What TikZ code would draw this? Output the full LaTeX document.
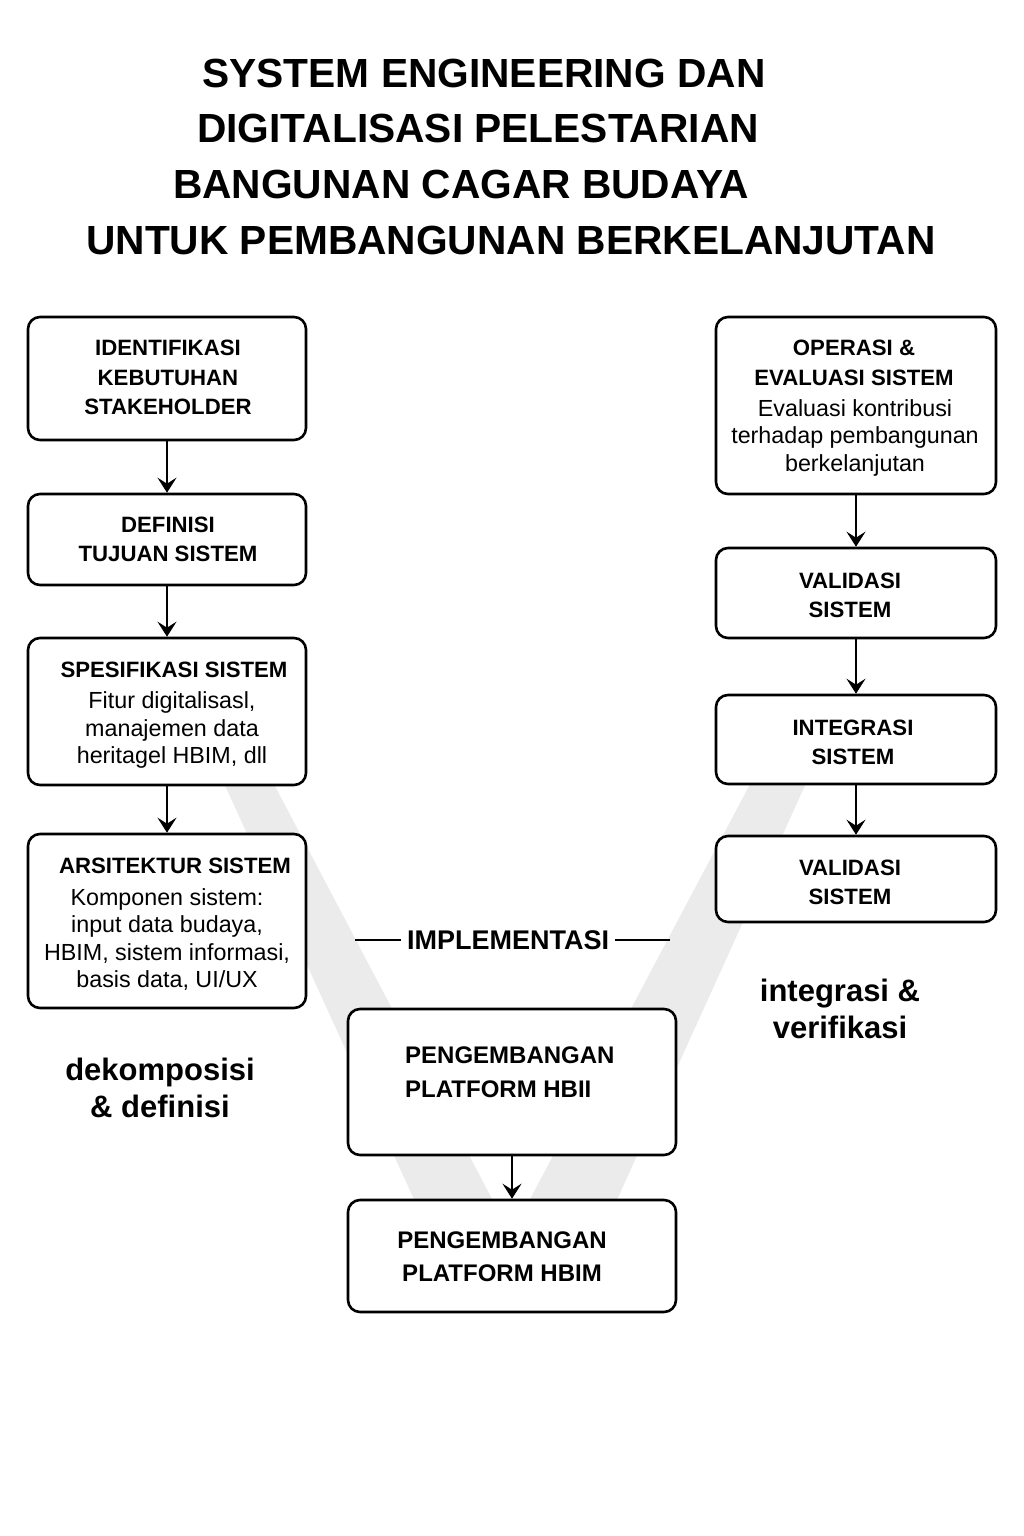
\documentclass[tikz,border=0pt]{standalone}
\usepackage{fontspec}
\setmainfont{Liberation Sans}
\usetikzlibrary{arrows.meta}
\definecolor{vgrey}{HTML}{EBEBEB}
\begin{document}
\begin{tikzpicture}[x=1pt,y=-1pt,
  box/.style={draw=black, line width=2.6pt, rounded corners=12pt, fill=white, inner sep=0pt},
  hd/.style={font=\bfseries\fontsize{22.2}{29.5}\selectfont, align=center, inner sep=0pt},
  bd/.style={font=\fontsize{23.3}{27.5}\selectfont, align=center, inner sep=0pt},
  arr/.style={line width=2.7pt, -{Stealth[length=15pt,width=19pt,inset=6pt]}},
  ttl/.style={font=\bfseries\fontsize{40.7}{48}\selectfont, inner sep=0pt},
  lbl/.style={font=\bfseries\fontsize{31}{37}\selectfont, align=center, inner sep=0pt}]
\useasboundingbox (0,0) rectangle (1024,1536);
\fill[white] (0,0) rectangle (1024,1536);
% V band
\fill[vgrey] (218,770) -- (266.5,770) -- (511,1235) -- (757.6,770) -- (812,770) -- (571.5,1300) -- (460,1300) -- cycle;
% title
\node[ttl] (t1) at (484,73) {SYSTEM ENGINEERING DAN};
\node[ttl] (t2) at (478,128) {DIGITALISASI PELESTARIAN};
\node[ttl] (t3) at (461,184) {BANGUNAN CAGAR BUDAYA};
\node[ttl] (t4) at (511,240) {UNTUK PEMBANGUNAN BERKELANJUTAN};
% left column
\node[box, minimum width=278pt, minimum height=123pt] (b1) at (167,378.5) {};
\node[box, minimum width=278pt, minimum height=91pt] (b2) at (167,539.5) {};
\node[box, minimum width=278pt, minimum height=147pt] (b3) at (167,711.5) {};
\node[box, minimum width=278pt, minimum height=174pt] (b4) at (167,921) {};
\node[hd] (b1t) at (168,377.5) {IDENTIFIKASI\\KEBUTUHAN\\STAKEHOLDER};
\node[hd] (b2t) at (168,539.5) {DEFINISI\\TUJUAN SISTEM};
\node[hd] (b3h) at (174,670) {SPESIFIKASI SISTEM};
\node[bd] (b3b) at (172,730) {Fitur digitalisasl,\\manajemen data\\heritagel HBIM, dll};
\node[hd] (b4h) at (175,866) {ARSITEKTUR SISTEM};
\node[bd] (b4b) at (167,939.5) {Komponen sistem:\\input data budaya,\\HBIM, sistem informasi,\\basis data, UI/UX};
\draw[arr] (b1.south) -- (b2.north);
\draw[arr] (b2.south) -- (b3.north);
\draw[arr] (b3.south) -- (b4.north);
% right column
\node[box, minimum width=280pt, minimum height=177pt] (r1) at (856,405.5) {};
\node[box, minimum width=280pt, minimum height=90pt] (r2) at (856,593) {};
\node[box, minimum width=280pt, minimum height=89pt] (r3) at (856,739.5) {};
\node[box, minimum width=280pt, minimum height=86pt] (r4) at (856,879) {};
\node[hd] (r1h) at (854,363) {OPERASI \&\\EVALUASI SISTEM};
\node[bd] (r1b) at (855,437.5) {Evaluasi kontribusi\\terhadap pembangunan\\berkelanjutan};
\node[hd] (r2t) at (850,595.5) {VALIDASI\\SISTEM};
\node[hd] (r3t) at (853,742.5) {INTEGRASI\\SISTEM};
\node[hd] (r4t) at (850,882.5) {VALIDASI\\SISTEM};
\draw[arr] (r1.south) -- (r2.north);
\draw[arr] (r2.south) -- (r3.north);
\draw[arr] (r3.south) -- (r4.north);
% center
\node[box, minimum width=328pt, minimum height=146pt] (c1) at (512,1082) {};
\node[box, minimum width=328pt, minimum height=112pt] (c2) at (512,1256) {};
\node[hd, align=left, anchor=west, font=\bfseries\fontsize{24}{34}\selectfont] (c1t) at (405,1072) {PENGEMBANGAN\\PLATFORM HBII};
\node[hd, font=\bfseries\fontsize{24}{33}\selectfont] (c2t) at (502,1256.5) {PENGEMBANGAN\\PLATFORM HBIM};
\draw[arr] (c1.south) -- (c2.north);
% implementasi
\node[hd, font=\bfseries\fontsize{27}{30}\selectfont] (impl) at (508,940) {IMPLEMENTASI};
\coordinate (il) at (355,940);
\coordinate (ir) at (670,940);
\draw[line width=2pt] (il) -- ([xshift=-6pt]impl.west);
\draw[line width=2pt] ([xshift=6pt]impl.east) -- (ir);
% side labels
\node[lbl] (dek) at (160,1087.5) {dekomposisi\\\& definisi};
\node[lbl] (int) at (840,1008.5) {integrasi \&\\verifikasi};
\end{tikzpicture}
\end{document}
